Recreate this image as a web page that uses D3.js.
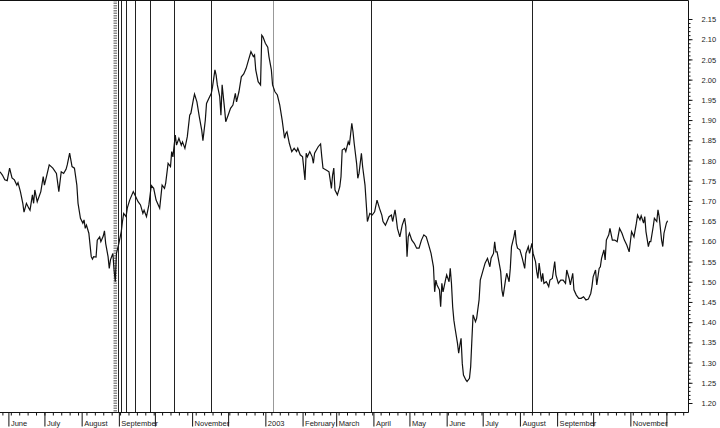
<!DOCTYPE html>
<html>
<head>
<meta charset="utf-8">
<script src="https://cdn.jsdelivr.net/npm/d3@7"></script>
<style>
  body { margin: 0; background: #fff; }
  svg { display: block; font-family: "Liberation Sans", Arial, sans-serif; }
  .axis text { font-size: 7.5px; fill: #222; }
  .axis line, .axis path { stroke: #111; }
</style>
</head>
<body>
<svg id="chart" width="720" height="428"></svg>
<script>
// series: days counted from startDate, rate
const startDate = new Date(2002, 4, 25);
const endDate = new Date(2003, 11, 19);

const dayOffsets = [
  0, 2, 4, 6, 8, 10, 12, 14, 15, 17, 19, 20, 22, 24, 25, 27, 28, 29, 31, 34,
  36, 37, 39, 41, 44, 47, 49, 51, 53, 55, 56, 58, 60, 62, 64, 65, 67, 69, 70, 71,
  72, 74, 76, 77, 78, 80, 81, 83, 84, 86, 87, 88, 90, 91, 92, 94, 95, 96, 97, 99,
  101, 102, 103, 105, 106, 108, 111, 112, 115, 117, 119, 120, 122, 124, 126, 128, 130, 133, 135, 137,
  138, 140, 142, 143, 144, 146, 147, 149, 151, 152, 154, 156, 158, 159, 161, 162, 164, 166, 168, 169,
  171, 172, 174, 176, 177, 179, 180, 181, 183, 184, 185, 187, 188, 190, 192, 194, 196, 197, 199, 201,
  203, 205, 207, 209, 211, 212, 213, 215, 217, 218, 219, 221, 223, 224, 226, 227, 229, 231, 233, 235,
  237, 238, 239, 241, 243, 245, 247, 248, 250, 252, 254, 255, 256, 258, 260, 261, 262, 265, 267, 268,
  269, 272, 274, 275, 276, 277, 278, 279, 281, 283, 284, 285, 287, 288, 290, 291, 293, 294, 295, 297,
  298, 299, 301, 302, 304, 305, 306, 308, 310, 312, 314, 316, 318, 319, 321, 324, 326, 327, 329, 330,
  331, 333, 335, 337, 338, 339, 340, 341, 343, 345, 347, 349, 351, 353, 355, 357, 359, 361, 362, 363,
  364, 366, 367, 368, 369, 371, 372, 374, 375, 376, 377, 378, 379, 381, 382, 383, 384, 385, 386, 388,
  389, 391, 392, 393, 394, 396, 397, 399, 400, 402, 404, 406, 408, 409, 411, 412, 413, 414, 415, 417,
  418, 419, 421, 422, 424, 425, 426, 428, 429, 430, 431, 433, 435, 437, 438, 440, 441, 443, 444, 446,
  447, 448, 449, 451, 452, 453, 455, 457, 458, 460, 462, 463, 465, 467, 469, 471, 472, 474, 475, 477,
  478, 480, 482, 484, 486, 488, 490, 492, 493, 494, 496, 497, 499, 500, 501, 503, 504, 505, 507, 508,
  510, 512, 514, 516, 518, 520, 522, 524, 525, 526, 528, 530, 531, 533, 534, 536, 537, 538, 540, 541,
  542, 544, 545, 547, 548, 549, 551, 552, 553, 555, 556
];

const rates = [
  1.772, 1.764, 1.752, 1.750, 1.781, 1.757, 1.752, 1.739, 1.745, 1.723, 1.694, 1.672, 1.694, 1.682, 1.677, 1.715, 1.694, 1.727, 1.698, 1.723,
  1.760, 1.739, 1.764, 1.789, 1.781, 1.768, 1.723, 1.772, 1.768, 1.778, 1.789, 1.818, 1.785, 1.781, 1.739, 1.694, 1.657, 1.645, 1.653, 1.632,
  1.640, 1.620, 1.562, 1.556, 1.562, 1.561, 1.603, 1.611, 1.599, 1.613, 1.626, 1.595, 1.562, 1.533, 1.554, 1.570, 1.529, 1.500, 1.570, 1.595,
  1.624, 1.649, 1.669, 1.661, 1.682, 1.702, 1.723, 1.717, 1.698, 1.690, 1.669, 1.677, 1.661, 1.690, 1.738, 1.731, 1.702, 1.682, 1.739, 1.731,
  1.744, 1.793, 1.785, 1.822, 1.809, 1.863, 1.838, 1.855, 1.838, 1.846, 1.830, 1.859, 1.912, 1.917, 1.950, 1.964, 1.945, 1.908, 1.875, 1.849,
  1.900, 1.941, 1.954, 1.966, 1.982, 2.024, 2.011, 1.987, 1.958, 1.912, 1.987, 1.929, 1.896, 1.912, 1.929, 1.937, 1.966, 1.945, 1.970, 2.007,
  2.014, 2.028, 2.049, 2.069, 2.057, 2.061, 2.024, 1.995, 1.987, 2.110, 2.106, 2.090, 2.080, 2.057, 2.024, 1.987, 1.970, 1.962, 1.937, 1.900,
  1.855, 1.867, 1.871, 1.842, 1.822, 1.830, 1.822, 1.830, 1.814, 1.809, 1.752, 1.818, 1.809, 1.822, 1.809, 1.793, 1.818, 1.834, 1.841, 1.809,
  1.781, 1.776, 1.772, 1.752, 1.731, 1.764, 1.781, 1.727, 1.715, 1.735, 1.760, 1.826, 1.830, 1.822, 1.846, 1.838, 1.892, 1.871, 1.842, 1.793,
  1.756, 1.768, 1.818, 1.785, 1.739, 1.694, 1.649, 1.669, 1.665, 1.673, 1.702, 1.682, 1.665, 1.649, 1.640, 1.661, 1.665, 1.649, 1.678, 1.657,
  1.632, 1.611, 1.640, 1.657, 1.636, 1.562, 1.611, 1.620, 1.603, 1.595, 1.583, 1.583, 1.603, 1.616, 1.611, 1.591, 1.570, 1.537, 1.475, 1.504,
  1.492, 1.480, 1.438, 1.496, 1.475, 1.504, 1.517, 1.500, 1.533, 1.496, 1.438, 1.405, 1.385, 1.348, 1.323, 1.343, 1.360, 1.298, 1.269, 1.257,
  1.253, 1.261, 1.290, 1.356, 1.418, 1.401, 1.410, 1.455, 1.504, 1.525, 1.546, 1.558, 1.537, 1.558, 1.570, 1.599, 1.574, 1.574, 1.558, 1.525,
  1.480, 1.463, 1.504, 1.521, 1.500, 1.533, 1.587, 1.611, 1.628, 1.595, 1.583, 1.579, 1.558, 1.533, 1.570, 1.587, 1.570, 1.595, 1.570, 1.550,
  1.525, 1.508, 1.546, 1.500, 1.521, 1.496, 1.500, 1.488, 1.504, 1.508, 1.550, 1.517, 1.496, 1.504, 1.504, 1.496, 1.529, 1.508, 1.492, 1.521,
  1.480, 1.467, 1.459, 1.459, 1.463, 1.455, 1.457, 1.471, 1.488, 1.512, 1.529, 1.492, 1.533, 1.537, 1.558, 1.579, 1.554, 1.603, 1.616, 1.632,
  1.603, 1.603, 1.599, 1.632, 1.620, 1.603, 1.591, 1.574, 1.599, 1.624, 1.611, 1.645, 1.665, 1.653, 1.663, 1.645, 1.661, 1.624, 1.587, 1.599,
  1.599, 1.636, 1.657, 1.649, 1.678, 1.661, 1.603, 1.587, 1.620, 1.645, 1.651
];

// event markers (days from startDate)
const dottedEventDays = [96];
const solidEventDays = [98, 101, 105, 112.5, 125, 144.5, 176, 309, 443];
const greyEventDays = [227];

const width = 720;
const height = 428;
const plotRight = 688;
const plotBottom = 412;

const dayMs = 864e5;
const toDate = d => new Date(+startDate + d * dayMs);

const data = dayOffsets.map((d, i) => ({ date: toDate(d), value: rates[i] }));

const svg = d3.select("#chart");
svg.append("rect").attr("width", width).attr("height", height).attr("fill", "#fff");

const x = d3.scaleTime().domain([startDate, endDate]).range([0, plotRight]);
const y = d3.scaleLinear().domain([1.20, 2.15]).range([403, 19]);

// vertical event lines
const events = svg.append("g");
events.selectAll(".dotted")
  .data(dottedEventDays)
  .enter()
  .append("line")
  .attr("x1", d => x(toDate(d)))
  .attr("x2", d => x(toDate(d)))
  .attr("y1", 0)
  .attr("y2", plotBottom)
  .attr("stroke", "#8a8a8a")
  .attr("stroke-width", 3.5)
  .attr("stroke-dasharray", "1.5,1");

events.selectAll(".solid")
  .data(solidEventDays)
  .enter()
  .append("line")
  .attr("x1", d => Math.round(x(toDate(d))) + 0.5)
  .attr("x2", d => Math.round(x(toDate(d))) + 0.5)
  .attr("y1", 0)
  .attr("y2", plotBottom)
  .attr("stroke", "#222")
  .attr("stroke-width", 1);

events.selectAll(".grey")
  .data(greyEventDays)
  .enter()
  .append("line")
  .attr("x1", d => Math.round(x(toDate(d))) + 0.5)
  .attr("x2", d => Math.round(x(toDate(d))) + 0.5)
  .attr("y1", 0)
  .attr("y2", plotBottom)
  .attr("stroke", "#999")
  .attr("stroke-width", 1);

// the rate line
const line = d3.line()
  .x(d => x(d.date))
  .y(d => y(d.value));

svg.append("path")
  .datum(data)
  .attr("fill", "none")
  .attr("stroke", "#111")
  .attr("stroke-width", 1.2)
  .attr("stroke-linejoin", "miter")
  .attr("d", line);

// frame: top and right edge
svg.append("path")
  .attr("d", `M0,0.5H${plotRight + 0.5}V${plotBottom + 0.5}H0`)
  .attr("fill", "none")
  .attr("stroke", "#111");

// right axis
const yMinor = svg.append("g")
  .attr("class", "axis")
  .attr("transform", `translate(${plotRight + 0.5},0)`)
  .call(d3.axisRight(y).tickValues(y.ticks(100)).tickSize(2).tickFormat(""));
yMinor.select(".domain").remove();

const yMajor = svg.append("g")
  .attr("class", "axis")
  .attr("transform", `translate(${plotRight + 0.5},0)`)
  .call(d3.axisRight(y).ticks(20).tickSize(4).tickPadding(9).tickFormat(d3.format(".2f")));
yMajor.select(".domain").remove();
yMajor.selectAll("text").attr("dy", "0.35em");

// bottom axis: weekly minor ticks, monthly labelled ticks
const xMinor = svg.append("g")
  .attr("class", "axis")
  .attr("transform", `translate(0,${plotBottom + 0.5})`)
  .call(d3.axisBottom(x).ticks(d3.timeMonday.every(1)).tickSize(3).tickFormat(""));
xMinor.select(".domain").remove();

const monthFormat = d => d.getMonth() === 0 ? d3.timeFormat("%Y")(d) : d3.timeFormat("%B")(d);

const xMajor = svg.append("g")
  .attr("class", "axis")
  .attr("transform", `translate(0,${plotBottom + 0.5})`)
  .call(d3.axisBottom(x).ticks(d3.timeMonth.every(1)).tickSize(14).tickFormat(monthFormat));
xMajor.select(".domain").remove();

xMajor.selectAll("text")
  .attr("text-anchor", "start")
  .attr("x", 2)
  .attr("y", 13)
  .attr("dy", 0);

// drop labels that would run into the previous one
let lastEnd = -Infinity;
xMajor.selectAll(".tick").each(function (d) {
  const t = d3.select(this).select("text");
  const start = x(d) + 2;
  if (start < lastEnd + 2) {
    t.remove();
  } else {
    lastEnd = start + t.node().getComputedTextLength();
  }
});
</script>
</body>
</html>
